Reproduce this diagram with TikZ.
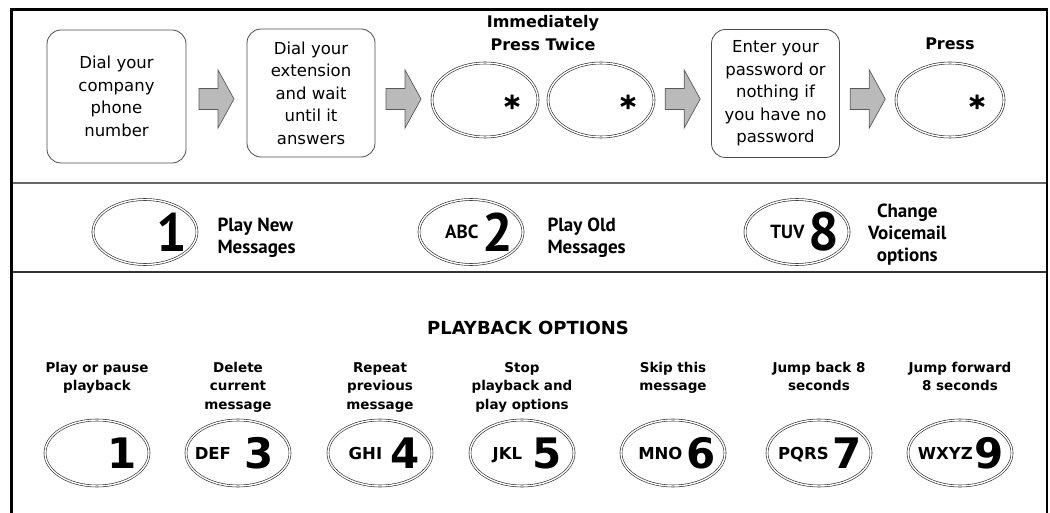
\documentclass[tikz,border=0pt]{standalone}
\usepackage{fontspec}
\setmainfont{DejaVu Sans}
\newfontfamily\ptsans{PT Sans}
\newfontfamily\starfont[FakeBold=1.5]{DejaVu Sans Bold}
\usetikzlibrary{calc,shapes.geometric}
\newcommand\midnum{\ptsans\bfseries\fontsize{54}{54}\selectfont}
\newcommand\midlet{\ptsans\bfseries\fontsize{19}{19}\selectfont}
\newcommand\botnum{\bfseries\fontsize{42}{42}\selectfont}
\newcommand\botlet{\bfseries\fontsize{16.5}{16.5}\selectfont}
\newcommand\mkey[3]{\raisebox{#3}{#1}#2}
\tikzset{
  stepbox/.style={draw=black!70, line width=0.8pt, rounded corners=14pt, minimum width=128pt, minimum height=128pt, inner sep=0pt, align=center, font=\fontsize{16.5}{22.5}\selectfont},
  keyell/.style={ellipse, draw=black!85, line width=0.6pt, double=white, double distance=1.4pt, inner sep=0pt, minimum width=104pt, minimum height=66pt},
  keytxt/.style={inner sep=0pt, anchor=center},
  star/.style={inner sep=0pt, font=\starfont\fontsize{30}{30}\selectfont},
  barrow/.style={draw=black!65, fill=black!27, line width=0.7pt, line join=miter},
  blab/.style={font=\bfseries\fontsize{16}{23}\selectfont, align=center},
  plab/.style={font=\bfseries\fontsize{13.5}{18.5}\selectfont, align=center, anchor=north, inner sep=0pt},
  mlab/.style={font=\ptsans\bfseries\fontsize{19}{22}\selectfont, align=left, anchor=west, inner sep=0pt},
}
\newcommand\barrowat[1]{\draw[barrow, shift={(#1 |- 0,99)}] (-17.5,-10.5) -- (1.5,-10.5) -- (1.5,-29) -- (17.5,0) -- (1.5,29) -- (1.5,10.5) -- (-17.5,10.5) -- cycle;}
\begin{document}
\begin{tikzpicture}[x=1pt,y=-1pt]
\useasboundingbox (0,0) rectangle (1050,513);
% frame
\draw[line width=3.5pt] (11.5,513) -- (11.5,8);
\draw[line width=3pt] (10,9.5) -- (1048,9.5);
\draw[line width=2pt] (1047,8) -- (1047,513);
\draw[line width=2.2pt, black!60] (13,183) -- (1046,183);
\draw[line width=1.3pt, black!80] (13,272) -- (1046,272);
% top row
\node[stepbox, minimum width=139pt, minimum height=133pt] (b1) at (116.5,96.5) {Dial your\\company\\phone\\number};
\node[stepbox] (b2) at (311,93) {Dial your\\extension\\and wait\\until it\\answers};
\node[keyell, minimum width=106pt, minimum height=74pt] (e1) at (485,100) {};
\node[keyell, minimum width=106pt, minimum height=74pt] (e2) at (601,100) {};
\node[stepbox] (b3) at (775.5,93.5) {Enter your\\password or\\nothing if\\you have no\\password};
\node[keyell, minimum width=108pt, minimum height=74pt] (e3) at (950,100) {};
\node[star] (s1) at ($(e1.center)+(27,6)$) {*};
\node[star] (s2) at ($(e2.center)+(27,6)$) {*};
\node[star] (s3) at ($(e3.center)+(27,6)$) {*};
\node[blab] (l1) at ($(e1.north)!0.5!(e2.north)+(0,-30)$) {Immediately\\Press Twice};
\node[blab] (l2) at ($(e3.north)+(0,-19)$) {Press};
\coordinate (m1) at ($(b1.east)!0.5!(b2.west)$);
\coordinate (m2) at ($(b2.east)!0.5!(e1.west)$);
\coordinate (m3) at ($(e2.east)!0.5!(b3.west)$);
\coordinate (m4) at ($(b3.east)!0.5!(e3.west)$);
\barrowat{m1}
\barrowat{m2}
\barrowat{m3}
\barrowat{m4}
% middle row
\node[keyell, minimum width=104pt, minimum height=65pt] (c1) at (145,232) {};
\node[keyell, minimum width=104pt, minimum height=65pt] (c2) at (471,232) {};
\node[keyell, minimum width=104pt, minimum height=65pt] (c3) at (797,232) {};
\node[keytxt, anchor=east] (c1t) at ($(c1.east)+(-10,0)$) {\midnum 1};
\node[keytxt, anchor=east] (c2t) at ($(c2.east)+(-10,0)$) {\mkey{\midlet ABC}{\hspace{4pt}\midnum 2}{12.5pt}};
\node[keytxt, anchor=east] (c3t) at ($(c3.east)+(-10,0)$) {\mkey{\midlet TUV}{\hspace{4pt}\midnum 8}{12.5pt}};
\node[mlab] (t1) at ($(c1.east)+(20,6)$) {Play New\\Messages};
\node[mlab] (t2) at ($(c2.east)+(24,6)$) {Play Old\\Messages};
\node[mlab, align=center, anchor=center] (t3) at ($(c3.east)+(58,3)$) {Change\\Voicemail\\options};
% bottom row
\node[font=\bfseries\fontsize{18}{18}\selectfont] (po) at (528,328) {PLAYBACK OPTIONS};
\node[keyell] (p1) at (97,453) {};
\node[keyell] (p3) at (238,453) {};
\node[keyell] (p4) at (380,453) {};
\node[keyell] (p5) at (522,453) {};
\node[keyell] (p6) at (673,453) {};
\node[keyell] (p7) at (819,453) {};
\node[keyell] (p9) at (960,453) {};
\node[keytxt, anchor=east] (p1t) at ($(p1.east)+(-12,0)$) {\botnum 1};
\node[keytxt] (p3t) at ($(p3.center)+(-4,0)$) {\mkey{\botlet DEF}{\hspace{13pt}\botnum 3}{9pt}};
\node[keytxt] (p4t) at ($(p4.center)+(4,0)$) {\mkey{\botlet GHI}{\hspace{8pt}\botnum 4}{9pt}};
\node[keytxt] (p5t) at ($(p5.center)+(5,0)$) {\mkey{\botlet JKL}{\hspace{10pt}\botnum 5}{9pt}};
\node[keytxt] (p6t) at ($(p6.center)+(4,0)$) {\mkey{\botlet MNO}{\hspace{4pt}\botnum 6}{9pt}};
\node[keytxt] (p7t) at ($(p7.center)+(1,0)$) {\mkey{\botlet PQRS}{\hspace{4pt}\botnum 7}{9pt}};
\node[keytxt] (p9t) at ($(p9.center)+(1,0)$) {\mkey{\botlet WXYZ}{\hspace{2pt}\botnum 9}{9pt}};
\node[plab] (q1) at (p1 |- 0,362) {Play or pause\\playback};
\node[plab] (q3) at (p3 |- 0,362) {Delete\\current\\message};
\node[plab] (q4) at (p4 |- 0,362) {Repeat\\previous\\message};
\node[plab] (q5) at (p5 |- 0,362) {Stop\\playback and\\play options};
\node[plab] (q6) at (p6 |- 0,362) {Skip this\\message};
\node[plab] (q7) at (p7 |- 0,362) {Jump back 8\\seconds};
\node[plab] (q9) at (p9 |- 0,362) {Jump forward\\8 seconds};
\end{tikzpicture}
\end{document}
